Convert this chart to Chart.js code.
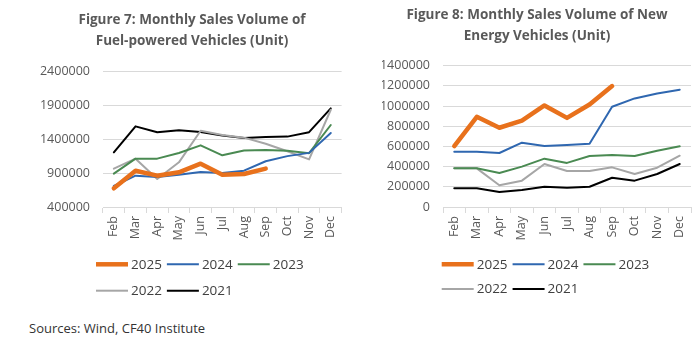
<!DOCTYPE html>
<html><head><meta charset="utf-8">
<script src="https://cdn.jsdelivr.net/npm/chart.js@4.4.1/dist/chart.umd.min.js"></script>
<style>
html,body{margin:0;padding:0;background:#fff;width:698px;height:343px;overflow:hidden;}
#c1{position:absolute;left:40px;top:0;}
#c2{position:absolute;left:376px;top:0;}
#src{position:absolute;left:29px;top:319px;font:13px 'Open Sans',sans-serif;color:#333;white-space:nowrap;}
</style></head><body>
<canvas id="c1" width="309" height="300"></canvas>
<canvas id="c2" width="322" height="300"></canvas>
<div id="src">Sources: Wind, CF40 Institute</div>
<script>
// ---- data ----
const months = ['Feb','Mar','Apr','May','Jun','Jul','Aug','Sep','Oct','Nov','Dec'];
const seriesNames = ['2025','2024','2023','2022','2021'];

const fuel2025 = [675000, 934000, 861000, 910000, 1037000, 875000, 885000, 965000, null, null, null];
const fuel2024 = [709000, 861000, 841000, 875000, 915000, 900000, 934000, 1073000, 1148000, 1196000, 1488000];
const fuel2023 = [890000, 1111000, 1111000, 1194000, 1307000, 1160000, 1230000, 1240000, 1228000, 1192000, 1606000];
const fuel2022 = [964000, 1111000, 812000, 1057000, 1522000, 1460000, 1420000, 1330000, 1220000, 1100000, 1830000];
const fuel2021 = [1204000, 1586000, 1498000, 1527000, 1503000, 1450000, 1415000, 1430000, 1435000, 1500000, 1850000];

const nev2025 = [604000, 894000, 785000, 855000, 1006000, 883000, 1016000, 1198000, null, null, null];
const nev2024 = [548000, 548000, 535000, 637000, 604000, 615000, 627000, 993000, 1076000, 1125000, 1162000];
const nev2023 = [383000, 383000, 337000, 400000, 479000, 437000, 505000, 515000, 505000, 558000, 601000];
const nev2022 = [383000, 383000, 215000, 261000, 426000, 356000, 356000, 393000, 327000, 389000, 508000];
const nev2021 = [185000, 185000, 149000, 168000, 201000, 191000, 201000, 290000, 261000, 327000, 426000];

const fuelTicks = [400000, 900000, 1400000, 1900000, 2400000];
const nevTicks = [0, 200000, 400000, 600000, 800000, 1000000, 1200000, 1400000];

const fuelTitle = ['Figure 7: Monthly Sales Volume of', 'Fuel-powered Vehicles (Unit)'];
const nevTitle = ['Figure 8: Monthly Sales Volume of New', 'Energy Vehicles (Unit)'];

// ---- styles ----
const colors = ['#E8711C', '#2F67B0', '#4A8A52', '#A6A6A6', '#000000'];
const widths = [4.5, 2, 2, 2, 2];
const FONT = "'Open Sans', sans-serif";

const lineLegend = {
  id: 'lineLegend',
  afterDraw(chart, args, opts) {
    const ctx = chart.ctx;
    ctx.save();
    ctx.font = opts.size + 'px ' + FONT;
    ctx.textBaseline = 'middle';
    ctx.textAlign = 'left';
    let row = 0, x = opts.x0;
    chart.data.datasets.forEach((ds, i) => {
      if (i === opts.perRow) { row = 1; x = opts.x0; }
      const y = opts.rows[row];
      ctx.strokeStyle = ds.borderColor;
      ctx.lineWidth = ds.borderWidth;
      ctx.lineCap = 'butt';
      ctx.beginPath(); ctx.moveTo(x, y); ctx.lineTo(x + opts.lineW, y); ctx.stroke();
      const tx = x + opts.lineW + opts.gap1;
      ctx.fillStyle = opts.color;
      ctx.fillText(ds.label, tx, y + 0.5);
      x = tx + ctx.measureText(ds.label).width + opts.gap2;
    });
    ctx.restore();
  }
};

function makeChart(id, title, series, ticks, cfg) {
  const datasets = series.map((d, i) => ({
    label: seriesNames[i],
    data: d,
    borderColor: colors[i],
    backgroundColor: colors[i],
    borderWidth: widths[i],
    pointRadius: 0,
    pointHoverRadius: 0,
    tension: 0,
    fill: false,
    borderJoinStyle: 'round',
    borderCapStyle: 'round'
  }));
  return new Chart(document.getElementById(id), {
    type: 'line',
    data: { labels: months, datasets },
    plugins: [lineLegend],
    options: {
      responsive: false,
      animation: false,
      devicePixelRatio: 1,
      layout: { padding: { left: cfg.padLeft, right: cfg.padRight, top: 0, bottom: 0 } },
      plugins: {
        legend: { display: false },
        tooltip: { enabled: false },
        title: {
          display: true,
          text: title,
          color: '#595959',
          font: { family: FONT, size: 13.5, weight: 'bold', lineHeight: '21px' },
          padding: { top: cfg.titleTop, bottom: cfg.titleBottom }
        },
        lineLegend: { x0: cfg.legendX, rows: cfg.legendRows, perRow: 3, lineW: 32, gap1: 3, gap2: 5, size: 13.5, color: '#404040' }
      },
      scales: {
        x: {
          type: 'category',
          offset: true,
          grid: { display: true, drawOnChartArea: false, drawTicks: true, tickLength: 6, color: '#d9d9d9', offset: true },
          border: { display: true, color: '#d9d9d9' },
          ticks: { minRotation: 90, maxRotation: 90, autoSkip: false, padding: 3, color: '#595959', font: { family: FONT, size: 12.5 } },
          afterFit: s => { s.height = 93; }
        },
        y: {
          min: ticks[0],
          max: ticks[ticks.length - 1],
          grid: { color: '#d9d9d9', drawTicks: false },
          border: { display: false },
          ticks: { stepSize: ticks[1] - ticks[0], padding: 13, color: '#595959', font: { family: FONT, size: 12.5 }, callback: v => String(v) },
          afterFit: s => { s.width = cfg.yWidth; }
        }
      }
    }
  });
}

makeChart('c1', fuelTitle, [fuel2025, fuel2024, fuel2023, fuel2022, fuel2021], fuelTicks,
  { padLeft: 0, padRight: 5, yWidth: 63, titleTop: 9.5, titleBottom: 19.5, legendX: 56, legendRows: [264.3, 290.7] });
makeChart('c2', nevTitle, [nev2025, nev2024, nev2023, nev2022, nev2021], nevTicks,
  { padLeft: 6, padRight: 6, yWidth: 61, titleTop: 4.5, titleBottom: 19.2, legendX: 65.7, legendRows: [264.3, 289] });
</script>
</body></html>
